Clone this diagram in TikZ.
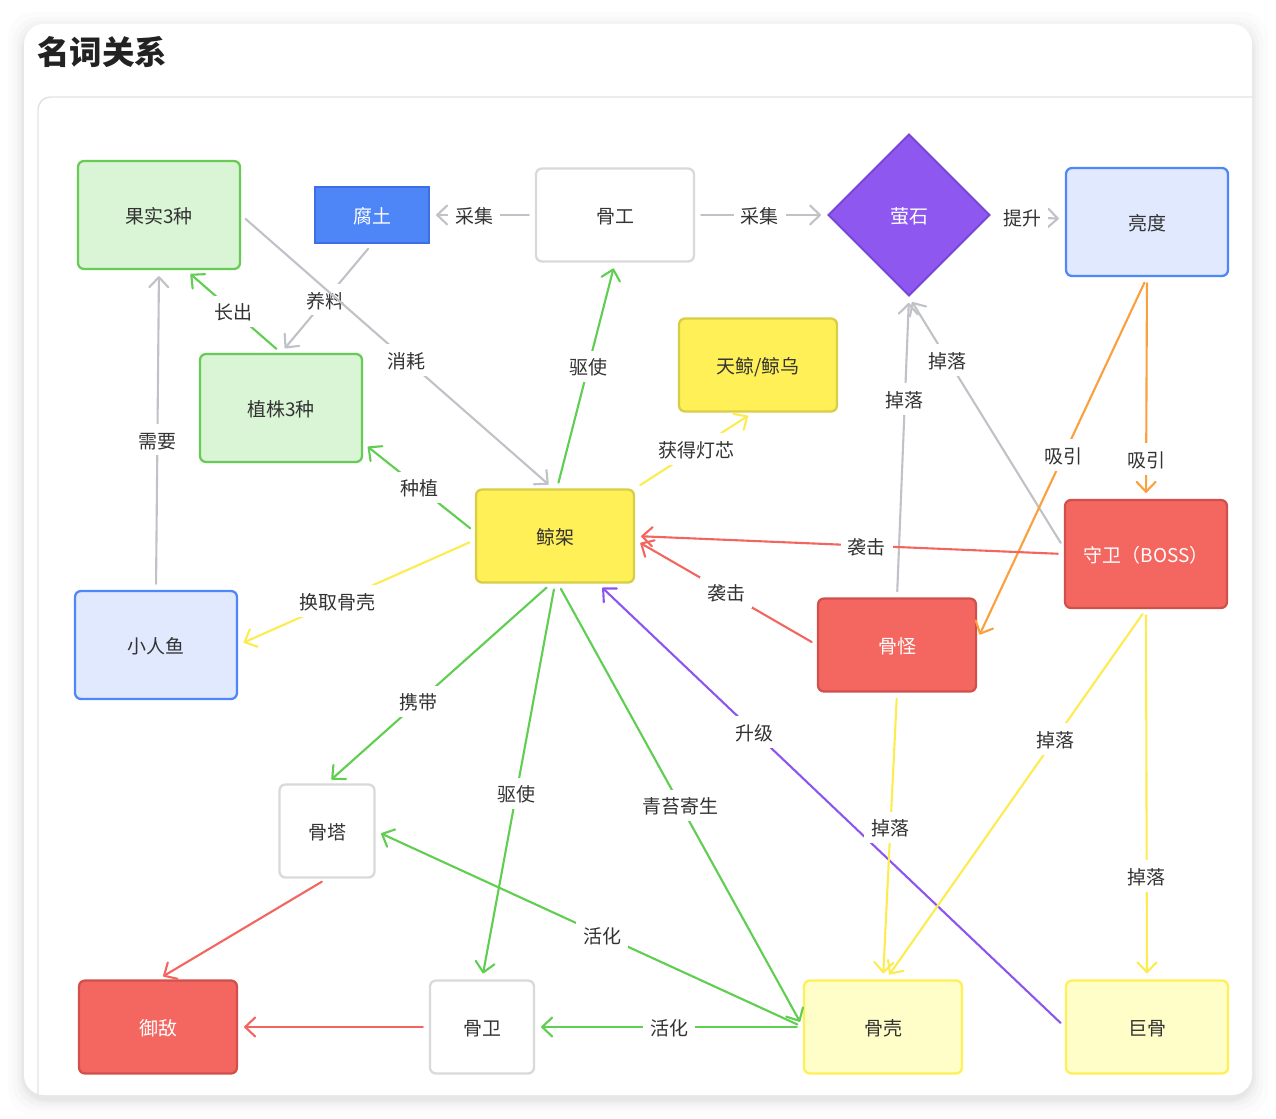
\documentclass[tikz,border=0pt]{standalone}
\usepackage{fontspec}
\setmainfont{Noto Sans CJK SC}
\usetikzlibrary{arrows.meta,shapes.geometric,calc}
\definecolor{txt}{RGB}{51,51,51}
\definecolor{lgrayc}{RGB}{192,194,200}
\definecolor{greenc}{RGB}{96,206,80}
\definecolor{yellowc}{RGB}{253,236,80}
\definecolor{orangec}{RGB}{250,160,60}
\definecolor{redc}{RGB}{242,102,95}
\definecolor{purplec}{RGB}{140,85,240}
\definecolor{lgfill}{RGB}{217,245,214}
\definecolor{lgdraw}{RGB}{102,204,85}
\definecolor{bfill}{RGB}{78,134,248}
\definecolor{bdraw}{RGB}{60,110,230}
\definecolor{wdraw}{RGB}{217,217,217}
\definecolor{pfill}{RGB}{142,88,240}
\definecolor{pdraw}{RGB}{120,70,215}
\definecolor{lbfill}{RGB}{224,233,253}
\definecolor{lbdraw}{RGB}{79,134,248}
\definecolor{yfill}{RGB}{254,240,86}
\definecolor{ydraw}{RGB}{218,205,70}
\definecolor{rfill}{RGB}{244,103,97}
\definecolor{rdraw}{RGB}{210,80,75}
\definecolor{lyfill}{RGB}{255,253,200}
\definecolor{lydraw}{RGB}{254,240,86}
\definecolor{panelc}{RGB}{225,226,230}
\begin{document}
\begin{tikzpicture}[x=0.02cm,y=-0.02cm,
  every node/.style={font=\fontsize{10.8}{13}\selectfont},
  boxbase/.style={rectangle, rounded corners=1.2mm, line width=1.3pt, inner sep=0pt, text height=0.98em, text depth=0.02em},
  bigsz/.style={minimum width=3.24cm, minimum height=2.16cm},
  midsz/.style={minimum width=3.16cm, minimum height=1.86cm},
  greenbox/.style={boxbase, fill=lgfill, draw=lgdraw, text=txt},
  bluebox/.style={boxbase, rounded corners=0pt, fill=bfill, draw=bdraw, text=white},
  whitebox/.style={boxbase, fill=white, draw=wdraw, text=txt},
  lbluebox/.style={boxbase, fill=lbfill, draw=lbdraw, text=txt},
  yellowbox/.style={boxbase, fill=yfill, draw=ydraw, text=txt},
  redbox/.style={boxbase, fill=rfill, draw=rdraw, text=white},
  lyellowbox/.style={boxbase, fill=lyfill, draw=lydraw, text=txt},
  conn/.style={line width=1.2pt, line cap=round, shorten >=1.2mm, shorten <=1.2mm,
    -{Straight Barb[length=2mm,width=3.8mm,round]}},
  cgray/.style={conn, draw=lgrayc},
  cgreen/.style={conn, draw=greenc},
  cyellow/.style={conn, draw=yellowc},
  corange/.style={conn, draw=orangec},
  cred/.style={conn, draw=redc},
  cpurple/.style={conn, draw=purplec},
  lab/.style={fill=white, inner sep=4pt, text=txt, text height=0.98em, text depth=0.02em}
]
\useasboundingbox (0,0) rectangle (1276,1119);
% background and card
\fill[white] (0,0) rectangle (1276,1119);
\foreach \d/\op in {16/0.012,11/0.016,7/0.02,4/0.025,2/0.025}
  \fill[black, opacity=\op, rounded corners=5mm] ({24-\d},{24-\d+4}) rectangle ({1252+\d},{1095+\d+4});
\fill[white, rounded corners=4mm] (24,24) rectangle (1252,1095);
\draw[panelc, line width=0.8pt, rounded corners=2.5mm] (38,1095) -- (38,97) -- (1252,97);
\node[anchor=west, text={rgb,255:red,34;green,34;blue,34}, font=\bfseries\fontsize{18.5}{21}\selectfont, inner sep=0pt] (title) at (37,52) {名词关系};

% nodes
\node[greenbox, bigsz] (guoshi) at (159,215) {果实3种};
\node[bluebox, minimum width=2.28cm, minimum height=1.12cm] (futu) at (372,215) {腐土};
\node[whitebox, midsz] (gugong) at (615,215) {骨工};
\node[diamond, aspect=1, fill=pfill, draw=pdraw, line width=1.1pt, minimum width=3.24cm, minimum height=3.24cm, inner sep=0pt, text=white, text height=0.98em, text depth=0.02em] (yingshi) at (909,215) {萤石};
\node[lbluebox, bigsz] (liangdu) at (1147,222) {亮度};
\node[greenbox, bigsz] (zhizhu) at (281,408) {植株3种};
\node[yellowbox, midsz] (tianjing) at (758,365) {天鲸/鲸乌};
\node[yellowbox, midsz] (jiaj) at (555,536) {鲸架};
\node[lbluebox, bigsz] (renyu) at (156,645) {小人鱼};
\node[redbox, bigsz] (shouwei) at (1146,554) {守卫（BOSS）};
\node[redbox, midsz] (guguai) at (897,645) {骨怪};
\node[whitebox, minimum width=1.9cm, minimum height=1.86cm] (guta) at (327,831) {骨塔};
\node[redbox, midsz] (yudi) at (158,1027) {御敌};
\node[whitebox, minimum width=2.08cm, minimum height=1.86cm] (guwei) at (482,1027) {骨卫};
\node[lyellowbox, midsz] (guke) at (883,1027) {骨壳};
\node[lyellowbox, minimum width=3.24cm, minimum height=1.86cm] (jugu) at (1147,1027) {巨骨};

% connectors
\draw[cgray] (gugong.west) -- node[lab, pos=0.58] {采集} (futu.east);
\draw[cgray] (gugong.east) -- node[lab, pos=0.49] {采集} (yingshi.west);
\draw[cgray] (yingshi.east) -- node[lab, pos=0.42] {提升} ($(liangdu.west)+(0,-3)$);
\draw[cgray] (futu.south) -- node[lab, pos=0.51] {养料} (zhizhu.north);
\draw[cgray] (guoshi.east) -- node[lab, pos=0.53] {消耗} ($(jiaj.north)+(-2,0)$);
\draw[cgreen] (zhizhu.north) -- node[lab, pos=0.5] {长出} ($(guoshi.south)+(27,0)$);
\draw[cgray] (renyu.north) -- node[lab, pos=0.47] {需要} (guoshi.south);
\draw[cgreen] ($(jiaj.north)+(2,0)$) -- node[lab, pos=0.54] {驱使} (gugong.south);
\draw[cyellow] (jiaj.north east) -- node[lab, pos=0.52] {获得灯芯} ($(tianjing.south)+(-5,0)$);
\draw[cgreen] ($(jiaj.west)+(0,-4)$) -- node[lab, pos=0.5] {种植} ($(zhizhu.east)+(0,35)$);
\draw[cyellow] ($(jiaj.west)+(0,4)$) -- node[lab, pos=0.58] {换取骨壳} (renyu.east);
\draw[cgreen] ($(jiaj.south)+(-4,0)$) -- node[lab, pos=0.59] {携带} (guta.north);
\draw[cgreen] (jiaj.south) -- node[lab, pos=0.53] {驱使} (guwei.north);
\draw[cgreen] ($(jiaj.south)+(3,0)$) -- node[lab, pos=0.5] {青苔寄生} (guke.west);
\draw[cgray] (guguai.north) -- node[lab, pos=0.66] {掉落} (yingshi.south);
\draw[cgray] ($(shouwei.west)+(0,-6)$) -- node[lab, pos=0.75] {掉落} (yingshi.south);
\draw[corange] (liangdu.south) -- node[lab, pos=0.49] {吸引} ($(guguai.east)+(0,-5)$);
\draw[corange] (liangdu.south) -- node[lab, pos=0.82] {吸引} (shouwei.north);
\draw[cred] (shouwei.west) -- node[lab, pos=0.46] {袭击} (jiaj.east);
\draw[cred] (guguai.west) -- node[lab, pos=0.5] {袭击} ($(jiaj.east)+(0,4)$);
\draw[cpurple] (jugu.west) -- node[lab, pos=0.665] {升级} ($(jiaj.south)+(43,0)$);
\draw[cyellow] (guguai.south) -- node[lab, pos=0.47] {掉落} (guke.north);
\draw[cyellow] (shouwei.south) -- node[lab, pos=0.35] {掉落} ($(guke.north)+(3,0)$);
\draw[cyellow] (shouwei.south) -- node[lab, pos=0.72] {掉落} (jugu.north);
\draw[cgreen] (guke.west) -- node[lab, pos=0.47] {活化} (guta.east);
\draw[cgreen] (guke.west) -- node[lab, pos=0.5] {活化} (guwei.east);
\draw[cred] (guwei.west) -- (yudi.east);
\draw[cred] (guta.south) -- (yudi.north);
\end{tikzpicture}
\end{document}
